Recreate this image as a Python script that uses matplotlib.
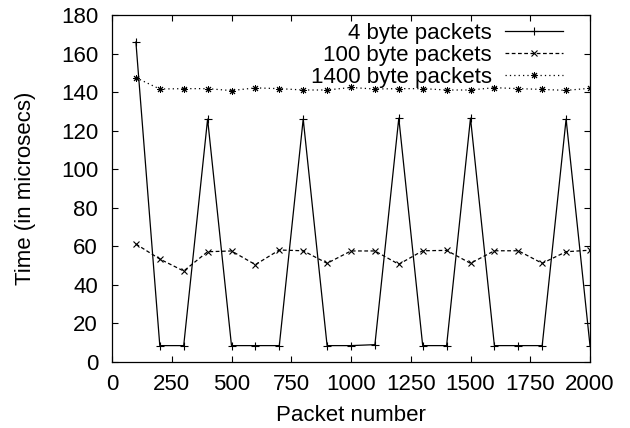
import matplotlib
matplotlib.use("Agg")
import matplotlib.pyplot as plt

packet_number = [100, 200, 300, 400, 500, 600, 700, 800, 900, 1000,
                 1100, 1200, 1300, 1400, 1500, 1600, 1700, 1800, 1900, 2000]
time_4 = [166, 8.5, 8.5, 126, 8.5, 8.5, 8.5, 126, 8.5, 8.5,
          9, 126.5, 8.5, 8.5, 126.5, 8.5, 8.5, 8.5, 126, 8.5]
time_100 = [61.2, 53.4, 47.2, 57.2, 57.6, 50.5, 58.1, 57.7, 51.2, 57.6,
            57.6, 50.7, 57.7, 57.9, 51.2, 57.7, 57.7, 51.2, 57.2, 58]
time_1400 = [147.5, 141.6, 141.8, 141.8, 140.8, 142.2, 141.8, 141.1, 141.1, 142.4,
             141.6, 141.8, 141.8, 141.1, 141.1, 142.3, 141.8, 141.4, 140.9, 142]
series_labels = ["4 byte packets", "100 byte packets", "1400 byte packets"]
x_ticks = [0, 250, 500, 750, 1000, 1250, 1500, 1750, 2000]
y_ticks = [0, 20, 40, 60, 80, 100, 120, 140, 160, 180]

plt.rcParams['font.family'] = ['Liberation Sans', 'DejaVu Sans']
FS = 16
fig = plt.figure(figsize=(6.3, 4.28), dpi=100)
ax = fig.add_axes([112/630, 1-362/428, (590-112)/630, (362-15)/428])

lw = 0.9
ax.plot(packet_number, time_4, color='black', lw=lw, ls='-', marker='+', ms=6, mew=0.8, label=series_labels[0])
ax.plot(packet_number, time_100, color='black', lw=lw, ls=(0, (3, 2)), marker='x', ms=4.5, mew=0.8, label=series_labels[1])
ax.plot(packet_number, time_1400, color='black', lw=lw, ls=(0, (1, 2.5)), marker=(8, 2, 0), ms=5, mew=0.7, label=series_labels[2])

ax.set_xlim(0, 2000)
ax.set_ylim(0, 180)
ax.set_xticks(x_ticks)
ax.set_yticks(y_ticks)
ax.tick_params(direction='in', top=True, right=True, length=4, width=0.8, labelsize=FS)
ax.tick_params(axis='y', pad=10)
ax.tick_params(axis='x', pad=8.5)
for s in ax.spines.values():
    s.set_linewidth(0.9)
ax.set_xlabel("Packet number", fontsize=FS, labelpad=7)
ax.set_ylabel("Time (in microsecs)", fontsize=FS, labelpad=18)

leg = ax.legend(loc='upper right', frameon=False, markerfirst=False, fontsize=FS,
                handlelength=2.6, handletextpad=0.6, labelspacing=0.05,
                borderaxespad=0.0, borderpad=0.0, numpoints=1,
                bbox_to_anchor=((563-112)/478, (362-23)/347))
fig.savefig("out.png", dpi=100)
